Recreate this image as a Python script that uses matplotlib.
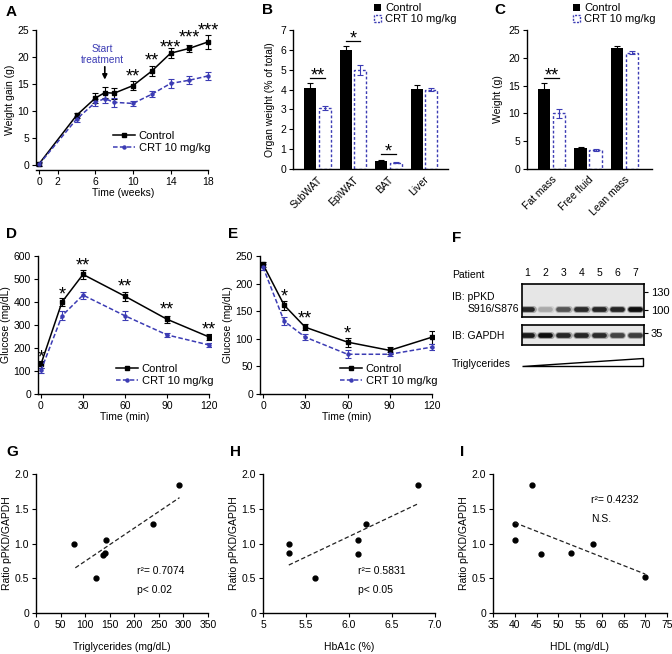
import numpy as np
import matplotlib.pyplot as plt
from matplotlib.patches import Patch
from matplotlib.lines import Line2D

plt.rcParams['font.family'] = ['Liberation Sans', 'DejaVu Sans']
plt.rcParams['font.size'] = 7
plt.rcParams['axes.linewidth'] = 1.0

BLUE = '#3c3cb4'
W, H = 672, 654

# ---- A: weight gain
weeks = [0, 4, 6, 7, 8, 10, 12, 14, 16, 18]
a_ctrl = [0.2, 9.2, 12.4, 13.4, 13.3, 14.7, 17.4, 20.7, 21.6, 22.8]
a_ctrl_err = [0.3, 0.5, 0.9, 1.0, 1.0, 0.9, 1.0, 0.9, 0.7, 1.3]
a_crt = [0.1, 8.5, 11.6, 12.3, 11.6, 11.4, 13.1, 15.1, 15.7, 16.5]
a_crt_err = [0.2, 0.5, 0.7, 0.8, 0.8, 0.5, 0.6, 0.8, 0.7, 0.8]
a_star_x = [10, 12, 14, 16, 18]
a_star_y = [17.4, 20.4, 22.8, 24.6, 25.9]
a_star_txt = ['**', '**', '***', '***', '***']

# ---- B: organ weight
b_labels = ['SubWAT', 'EpiWAT', 'BAT', 'Liver']
b_ctrl = [4.1, 6.0, 0.42, 4.02]
b_ctrl_err = [0.25, 0.2, 0.03, 0.2]
b_crt = [3.05, 5.0, 0.32, 4.0]
b_crt_err = [0.1, 0.25, 0.04, 0.08]
b_sig_grp = [0, 1, 2]
b_sig_y = [4.6, 6.45, 0.75]
b_sig_txt = ['**', '*', '*']

# ---- C: body composition
c_labels = ['Fat mass', 'Free fluid', 'Lean mass']
c_ctrl = [14.4, 3.7, 21.8]
c_ctrl_err = [1.0, 0.3, 0.4]
c_crt = [10.0, 3.4, 20.9]
c_crt_err = [0.8, 0.2, 0.3]
c_sig_grp = [0]
c_sig_y = [16.4]
c_sig_txt = ['**']

# ---- D: GTT
d_t = [0, 15, 30, 60, 90, 120]
d_ctrl = [130, 400, 520, 425, 325, 248]
d_ctrl_err = [15, 18, 20, 20, 15, 12]
d_crt = [103, 340, 430, 340, 257, 213]
d_crt_err = [12, 20, 15, 20, 10, 10]
d_star_y = [183, 457, 583, 491, 391, 304]
d_star_txt = ['*', '*', '**', '**', '**', '**']

# ---- E: ITT
e_t = [0, 15, 30, 60, 90, 120]
e_ctrl = [235, 161, 121, 94, 79, 103]
e_ctrl_err = [5, 8, 5, 8, 7, 12]
e_crt = [230, 132, 103, 72, 72, 85]
e_crt_err = [5, 7, 5, 7, 4, 5]
e_star_x = [15, 30, 60]
e_star_y = [187, 147, 120]
e_star_txt = ['*', '**', '*']

# ---- F: blot
lanes = [1, 2, 3, 4, 5, 6, 7]
ppkd_band = [0.9, 0.35, 0.7, 0.88, 0.9, 0.9, 1.0]
gapdh_band = [0.95, 1.0, 0.9, 0.9, 0.88, 0.78, 0.8]

# ---- G/H/I: correlations
ratio = [1.0, 0.51, 0.84, 0.86, 1.05, 1.28, 1.84]
trig = [78, 122, 136, 140, 142, 239, 292]
g_fit_x, g_fit_y = [80, 292], [0.65, 1.66]
hba1c = [5.3, 5.6, 6.1, 5.3, 6.1, 6.2, 6.8]
h_ratio = [1.0, 0.51, 0.85, 0.86, 1.05, 1.28, 1.84]
h_fit_x, h_fit_y = [5.3, 6.8], [0.69, 1.57]
hdl = [58, 70, 46, 53, 40, 40, 44]
i_ratio = [1.0, 0.52, 0.85, 0.86, 1.05, 1.28, 1.84]
i_fit_x, i_fit_y = [40, 70], [1.30, 0.56]

fig = plt.figure(figsize=(6.72, 6.54), dpi=100)


def add_ax(l, t, r, b):
    return fig.add_axes([l / W, 1 - b / H, (r - l) / W, (b - t) / H])


def ftext(x, y, s, **kw):
    fig.text(x / W, 1 - y / H, s, **kw)


def style(ax):
    ax.spines['top'].set_visible(False)
    ax.spines['right'].set_visible(False)
    ax.tick_params(direction='out', length=3, width=0.8, pad=2, labelsize=7.5)


def star(ax, x, y, s, fs=13):
    ax.annotate(s, (x, y), xytext=(0, -0.33 * fs), textcoords='offset points',
                ha='center', va='center', fontsize=fs, annotation_clip=False)


line_handles = [Line2D([], [], color='black', marker='s', ms=2.5, lw=1.1),
                Line2D([], [], color=BLUE, marker='o', ms=2.2, lw=1.1, ls=(0, (3, 1.5)))]
line_labels = ['Control', 'CRT 10 mg/kg']


def time_course(ax, t, c, ce, r, re):
    ax.errorbar(t, c, yerr=ce, color='black', marker='s', ms=2.5, lw=1.1,
                capsize=2, elinewidth=0.8, capthick=0.8)
    ax.errorbar(t, r, yerr=re, color=BLUE, marker='o', ms=2.2, lw=1.1,
                ls=(0, (3, 1.5)), capsize=2, elinewidth=0.8, capthick=0.8)


def line_legend(x, y):
    fig.legend(line_handles, line_labels, loc='upper left',
               bbox_to_anchor=(x / W, 1 - y / H), frameon=False, fontsize=8,
               handlelength=2.0, handletextpad=0.3, labelspacing=0.15,
               borderpad=0, borderaxespad=0)


# A
ax = add_ax(36, 30, 211, 170)
style(ax)
time_course(ax, weeks, a_ctrl, a_ctrl_err, a_crt, a_crt_err)
ax.set_xlim(-0.32, 18.3)
ax.set_ylim(-0.93, 25)
ax.set_xticks([0, 2, 6, 10, 14, 18])
ax.set_yticks(range(0, 26, 5))
ax.spines['left'].set_bounds(0, 25)
ax.spines['bottom'].set_bounds(-0.32, 18)
ax.set_xlabel('Time (weeks)', fontsize=7.5, labelpad=1)
ax.set_ylabel('Weight gain (g)', fontsize=7.5, labelpad=2)
for x, y, s in zip(a_star_x, a_star_y, a_star_txt):
    star(ax, x, y, s)
ax.annotate('', xy=(7, 15.3), xytext=(7, 18.7),
            arrowprops=dict(arrowstyle='-|>', color='black', lw=1.2, mutation_scale=7))
ax.text(6.7, 20.5, 'Start\ntreatment', color=BLUE, ha='center', va='center',
        fontsize=7.3, linespacing=1.1)
line_legend(113, 131)


def bar_panel(ax, labels, ctrl, ce, crt, re, sig_g, sig_y, sig_t, off, wd, ystar):
    style(ax)
    g = np.arange(len(labels))
    ax.bar(g - off, ctrl, width=wd, color='black', yerr=ce,
           error_kw=dict(ecolor='black', capsize=2, elinewidth=0.8, capthick=0.8))
    ax.bar(g + off, crt, width=wd, facecolor='white', edgecolor=BLUE,
           linestyle=(0, (2, 1.5)), linewidth=1.0, yerr=re,
           error_kw=dict(ecolor=BLUE, capsize=2, elinewidth=0.8, capthick=0.8))
    ax.set_xticks(g, labels, rotation=45, ha='right', rotation_mode='anchor')
    ax.tick_params(axis='x', length=0, pad=4)
    for gi, y, s in zip(sig_g, sig_y, sig_t):
        ax.plot([gi - off, gi + off], [y, y], color='black', lw=0.9)
        star(ax, gi, y + ystar, s)


bar_handles = [Patch(facecolor='black'),
               Patch(facecolor='white', edgecolor=BLUE, linestyle=(0, (1.5, 1)), lw=1.0)]


def bar_legend(x, y):
    fig.legend(bar_handles, line_labels, loc='upper left',
               bbox_to_anchor=(x / W, 1 - y / H), frameon=False, fontsize=8,
               handlelength=0.6, handleheight=0.6, handletextpad=0.4,
               labelspacing=0.1, borderpad=0, borderaxespad=0)


# B
ax = add_ax(293, 30, 448, 169)
bar_panel(ax, b_labels, b_ctrl, b_ctrl_err, b_crt, b_crt_err,
          b_sig_grp, b_sig_y, b_sig_txt, 0.204, 0.34, 0.4)
ax.set_xlim(-0.69, 3.68)
ax.set_ylim(0, 7)
ax.set_yticks(range(0, 8))
ax.set_ylabel('Organ weight (% of total)', fontsize=7.5, labelpad=4)
bar_legend(374, 3)

# C
ax = add_ax(527, 30, 652, 169)
bar_panel(ax, c_labels, c_ctrl, c_ctrl_err, c_crt, c_crt_err,
          c_sig_grp, c_sig_y, c_sig_txt, 0.205, 0.34, 1.4)
ax.set_xlim(-0.67, 2.75)
ax.set_ylim(0, 25)
ax.set_yticks(range(0, 26, 5))
ax.set_ylabel('Weight (g)', fontsize=7.5, labelpad=4)
bar_legend(573, 3)

# D
ax = add_ax(38, 256, 211, 394)
style(ax)
time_course(ax, d_t, d_ctrl, d_ctrl_err, d_crt, d_crt_err)
ax.set_xlim(-2.14, 121.4)
ax.set_ylim(0, 600)
ax.spines['bottom'].set_bounds(-2.14, 120)
ax.set_xticks(d_t[:1] + d_t[2:])
ax.set_yticks(range(0, 601, 100))
ax.set_xlabel('Time (min)', fontsize=7.5, labelpad=1)
ax.set_ylabel('Glucose (mg/dL)', fontsize=7.5, labelpad=2)
for x, y, s in zip(d_t, d_star_y, d_star_txt):
    star(ax, x, y, s)
line_legend(116, 364)

# E
ax = add_ax(260, 256, 434, 394)
style(ax)
time_course(ax, e_t, e_ctrl, e_ctrl_err, e_crt, e_crt_err)
ax.set_xlim(-2.13, 121.4)
ax.set_ylim(0, 250)
ax.spines['bottom'].set_bounds(-2.13, 120)
ax.set_xticks(e_t[:1] + e_t[2:])
ax.set_yticks(range(0, 251, 50))
ax.set_xlabel('Time (min)', fontsize=7.5, labelpad=1)
ax.set_ylabel('Glucose (mg/dL)', fontsize=7.5, labelpad=2)
for x, y, s in zip(e_star_x, e_star_y, e_star_txt):
    star(ax, x, y, s)
line_legend(340, 364)

# F: blot schematic
s1 = add_ax(522, 284, 644, 317)
s2 = add_ax(522, 325, 644, 345)
for s, vals, yb, yt, yl in [(s1, ppkd_band, 0.24, [0.76, 0.21], ['130', '100']),
                            (s2, gapdh_band, 0.5, [0.6], ['35'])]:
    s.set_facecolor('#e6e6e6')
    s.set_xlim(0.7, 7.5)
    s.set_ylim(0, 1)
    for sp in s.spines.values():
        sp.set_linewidth(1.2)
    for lane, v in zip(lanes, vals):
        g = 1 - 0.95 * v
        # soft halo then core band
        s.plot([lane - 0.3, lane + 0.3], [yb, yb], lw=5.0,
               color=(g, g, g), alpha=0.35, solid_capstyle='round')
        s.plot([lane - 0.27, lane + 0.27], [yb, yb], lw=3.4,
               color=(g, g, g), solid_capstyle='round')
    s.yaxis.tick_right()
    s.set_yticks(yt, yl)
    s.tick_params(axis='y', length=3, width=0.8, pad=2, labelsize=8)
    s.set_xticks([])
s1.xaxis.tick_top()
s1.set_xticks(lanes, [str(n) for n in lanes])
s1.tick_params(axis='x', length=0, pad=4, labelsize=7.5)
tri = add_ax(522, 358, 643, 366)
tri.fill([0, 1, 1], [0, 0, 1], facecolor='white', edgecolor='black', lw=1,
         clip_on=False)
tri.set_xlim(0, 1)
tri.set_ylim(0, 1)
tri.axis('off')
ftext(452, 275, 'Patient', fontsize=7.5, va='center')
ftext(452, 297, 'IB: pPKD', fontsize=7.5, va='center')
ftext(468, 309, 'S916/S876', fontsize=7.5, va='center')
ftext(452, 336, 'IB: GAPDH', fontsize=7.5, va='center')
ftext(452, 364, 'Triglycerides', fontsize=7.5, va='center')


# G, H, I
def scatter_panel(ax, x, y, fx, fy, xlim, xticks, xtl, xlabel, txt, tx, ty):
    style(ax)
    ax.plot(x, y, 'o', color='black', ms=3.5)
    ax.plot(fx, fy, color='#222222', lw=0.9, ls=(0, (3.5, 2)))
    ax.set_xlim(*xlim)
    ax.set_ylim(0, 2.0)
    ax.set_xticks(xticks, xtl)
    ax.set_yticks([0, 0.5, 1.0, 1.5, 2.0], ['0', '0.5', '1.0', '1.5', '2.0'])
    ax.set_xlabel(xlabel, fontsize=7.5, labelpad=9)
    ax.set_ylabel('Ratio pPKD/GAPDH', fontsize=7.5, labelpad=2)
    for s, yy in zip(txt, ty):
        ax.text(tx, yy, s, fontsize=7.5, va='center')


ax = add_ax(36, 474, 208, 613)
scatter_panel(ax, trig, ratio, g_fit_x, g_fit_y, (0, 350), range(0, 351, 50),
              [str(v) for v in range(0, 351, 50)], 'Triglycerides (mg/dL)',
              ['r²= 0.7074', 'p< 0.02'], 205, [0.6, 0.33])
ax = add_ax(263, 474, 435, 613)
scatter_panel(ax, hba1c, h_ratio, h_fit_x, h_fit_y, (5, 7), [5, 5.5, 6, 6.5, 7],
              ['5', '5.5', '6.0', '6.5', '7.0'], 'HbA1c (%)',
              ['r²= 0.5831', 'p< 0.05'], 6.1, [0.6, 0.33])
ax = add_ax(493, 474, 667, 613)
scatter_panel(ax, hdl, i_ratio, i_fit_x, i_fit_y, (35, 75), range(35, 76, 5),
              [str(v) for v in range(35, 76, 5)], 'HDL (mg/dL)',
              ['r²= 0.4232', 'N.S.'], 57.5, [1.63, 1.35])

# panel letters
for lx, ly, lt in [(6, 12, 'A'), (262, 10, 'B'), (494, 10, 'C'),
                   (6, 234, 'D'), (228, 234, 'E'), (452, 238, 'F'),
                   (6, 452, 'G'), (230, 452, 'H'), (460, 452, 'I')]:
    ftext(lx, ly, lt, fontsize=11, fontweight='bold', va='center')

fig.savefig('out.png', dpi=100)
